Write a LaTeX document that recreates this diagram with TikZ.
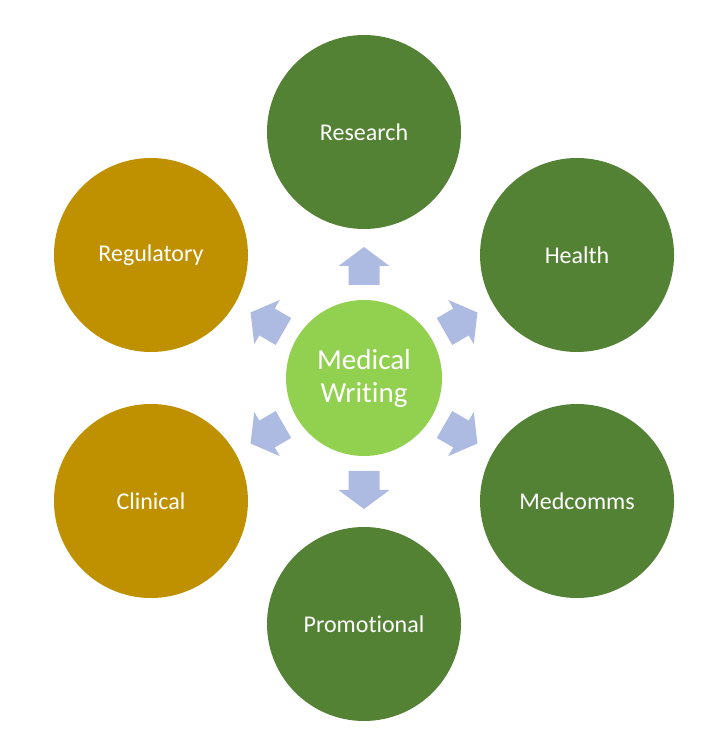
\documentclass[tikz,border=0pt]{standalone}
\usepackage{fontspec}
\setmainfont{Carlito}[RawFeature={-liga;-clig;-calt;-dlig}]
\usetikzlibrary{calc}
\definecolor{dkgreen}{HTML}{548235}
\definecolor{ltgreen}{HTML}{92D050}
\definecolor{gold}{HTML}{BF9000}
\definecolor{arrA}{HTML}{B4C0E6}
\definecolor{arrB}{HTML}{A6B4DE}
\begin{document}
\begin{tikzpicture}[x=1pt,y=1pt,
  outer/.style={circle,minimum size=194pt,inner sep=0pt,text=white,font=\fontsize{24}{28}\selectfont},
  greenc/.style={outer,fill=dkgreen},
  goldc/.style={outer,fill=gold},
  centerc/.style={circle,minimum size=156pt,inner sep=0pt,fill=ltgreen,text=white,align=center,font=\fontsize{29}{33}\selectfont},
  blockarrow/.style={fill=arrA!50!arrB,draw=none}]
\useasboundingbox (0,0) rectangle (711,740);
\coordinate (c) at (364,362);
\node[centerc] (mw) at (c) {Medical\\Writing};
\node[greenc] (research) at ($(c)+(90:246)$) {Research};
\node[greenc] (health) at ($(c)+(30:246)$) {Health};
\node[greenc] (medcomms) at ($(c)+(-30:246)$) {Medcomms};
\node[greenc] (promo) at ($(c)+(-90:246)$) {Promotional};
\node[goldc] (clinical) at ($(c)+(-150:246)$) {Clinical};
\node[goldc] (regulatory) at ($(c)+(150:246)$) {Regulatory};
\foreach \a/\n in {90/research,30/health,-30/medcomms,-90/promo,-150/clinical,150/regulatory}{
  \coordinate (ar-\n) at ($(mw.center)+(\a:112)$);
  \begin{scope}[shift={(ar-\n)},rotate=\a]
    \fill[blockarrow] (-19,-15.5) -- (0,-15.5) -- (0,-25.5) -- (19,0) -- (0,25.5) -- (0,15.5) -- (-19,15.5) -- cycle;
  \end{scope}
}
\end{tikzpicture}
\end{document}
